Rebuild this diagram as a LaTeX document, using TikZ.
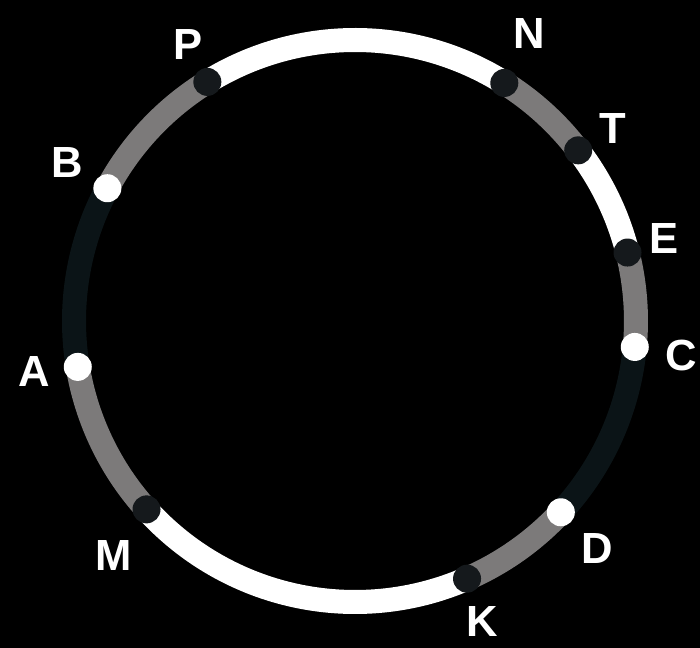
\documentclass[tikz,border=0pt]{standalone}
\usepackage{fontspec}
\setmainfont{Liberation Sans}

\definecolor{ringgray}{HTML}{7C7A7A}
\definecolor{ringdark}{HTML}{0B1417}
\definecolor{dotdark}{HTML}{15191C}

\begin{document}
\begin{tikzpicture}[x=0.025cm, y=0.025cm,
    seg/.style={line width=0.6cm},
    lbl/.style={text=white, font=\fontsize{31}{31}\selectfont\bfseries},
    wdot/.style={circle, fill=white, minimum size=0.7cm, inner sep=0pt},
    ddot/.style={circle, fill=dotdark, minimum size=0.7cm, inner sep=0pt}]

  % --- Background ---
  \fill[black] (-355,-327) rectangle (345,321);
  \useasboundingbox (-355,-327) rectangle (345,321);

  % --- Points on the ring ---
  \foreach \n/\a in {P/121.7, N/57.9, T/37.4, E/14.1, C/-5.3,
                     D/-42.9, K/-66.5, M/-137.9, A/-170.6, B/151.8} {
    \coordinate (\n) at (\a:281);
  }

  % --- Ring segments ---
  \foreach \s/\e/\a/\b/\c in {P/N/121.7/57.9/white, N/T/57.9/37.4/ringgray,
      T/E/37.4/14.1/white, E/C/14.1/-5.3/ringgray, C/D/-5.3/-42.9/ringdark,
      D/K/-42.9/-66.5/ringgray, K/M/-66.5/-137.9/white, M/A/-137.9/-170.6/ringgray,
      A/B/189.4/151.8/ringdark, B/P/151.8/121.7/ringgray} {
    \draw[seg, draw=\c] (\s) arc[start angle=\a, end angle=\b, radius=7.025cm];
  }

  % --- Dots ---
  \foreach \n in {P, N, T, E, K, M} {
    \node[ddot] (\n dot) at (\n) {};
  }
  \foreach \n in {C, D, A, B} {
    \node[wdot] (\n dot) at (\n) {};
  }

  % --- Labels ---
  \foreach \n/\a/\r in {P/121.1/323, N/58.8/336, T/36.8/322, E/15.0/320,
                        C/-6.1/328, D/-43.2/333, K/-67.0/326, M/-135.8/337,
                        A/-171.0/325, B/151.2/328} {
    \node[lbl] (l\n) at (\a:\r) {\n};
  }

\end{tikzpicture}
\end{document}
